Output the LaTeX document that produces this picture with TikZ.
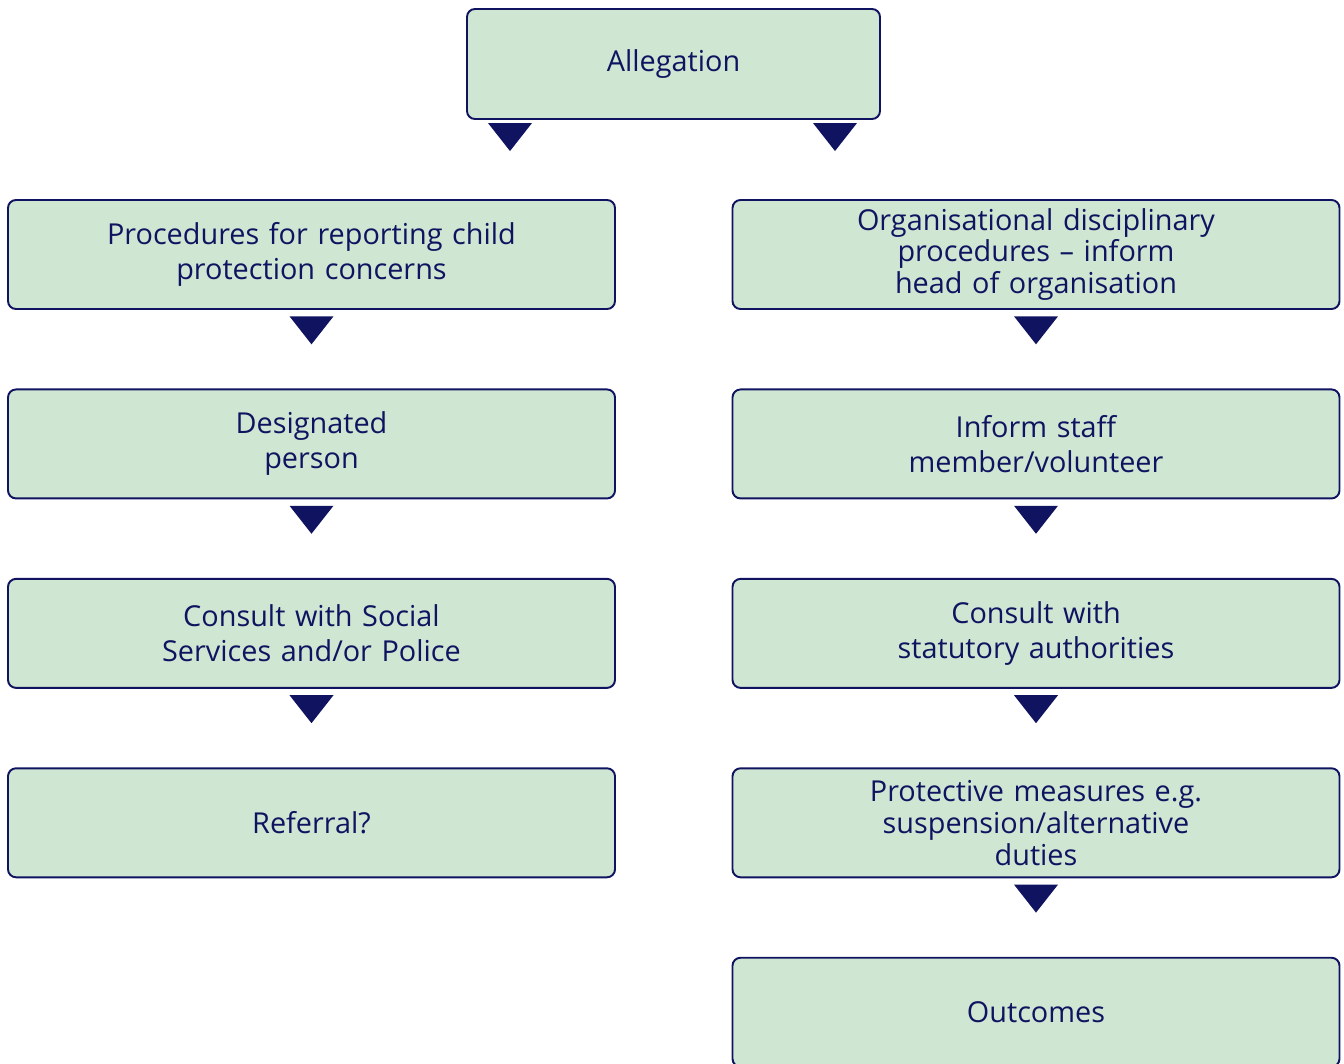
\documentclass[tikz,border=0pt]{standalone}
\usepackage{fontspec}
\setmainfont{Open Sans}
\usepackage{tikz}
\usetikzlibrary{positioning, shapes.geometric}
\definecolor{menta}{RGB}{206, 230, 210}
\definecolor{marino}{RGB}{16, 20, 96}
\tikzset{
    paso/.style={draw=marino, fill=menta, text=marino, line width=1.1pt, rounded corners=0.16cm,
                 minimum width=12.14cm, minimum height=2.18cm, text width=11.6cm, align=center,
                 font=\fontsize{16.4}{19.9}\selectfont, inner sep=0pt},
    pasoTres/.style={paso, font=\fontsize{16.4}{18.1}\selectfont},
    flecha/.style={isosceles triangle, isosceles triangle stretches, shape border rotate=270,
                 fill=marino, inner sep=0pt, minimum width=0.88cm, minimum height=0.56cm},
}

\begin{document}
\begin{tikzpicture}[node distance=1.57cm]
    \useasboundingbox (0,0) rectangle (26.88,-21.28);

    \node [paso, minimum width=8.26cm, minimum height=2.2cm, text width=7.8cm] (alleg) at (13.47,-1.28) {Allegation};

    % left column
    \node [paso] (proc) at (6.23,-5.09) {Procedures for reporting child\\protection concerns};
    \node [paso, below=of proc] (desig) {Designated\\person};
    \node [paso, below=of desig] (cons) {Consult with Social\\Services and/or Police};
    \node [paso, below=of cons] (refer) {Referral?};

    % right column
    \node [pasoTres] (org) at (20.72,-5.09) {Organisational disciplinary\\procedures -- inform\\head of organisation};
    \node [paso, below=of org] (staff) {Inform staff\\member/volunteer};
    \node [paso, below=of staff] (stat) {Consult with\\statutory authorities};
    \node [pasoTres, below=of stat] (prot) {Protective measures e.g.\\suspension/alternative\\duties};
    \node [paso, below=of prot] (outc) {Outcomes};

    \node [flecha, anchor=apex] (t0a) at ([xshift=-3.27cm, yshift=-0.64cm]alleg.south) {};
    \node [flecha, anchor=apex] (t0b) at ([xshift=3.23cm, yshift=-0.64cm]alleg.south) {};

    \node [flecha, below=0.12cm of proc] (t1) {};
    \node [flecha, below=0.12cm of desig] (t2) {};
    \node [flecha, below=0.12cm of cons] (t3) {};

    \node [flecha, below=0.12cm of org] (t4) {};
    \node [flecha, below=0.12cm of staff] (t5) {};
    \node [flecha, below=0.12cm of stat] (t6) {};
    \node [flecha, below=0.12cm of prot] (t7) {};
\end{tikzpicture}
\end{document}
